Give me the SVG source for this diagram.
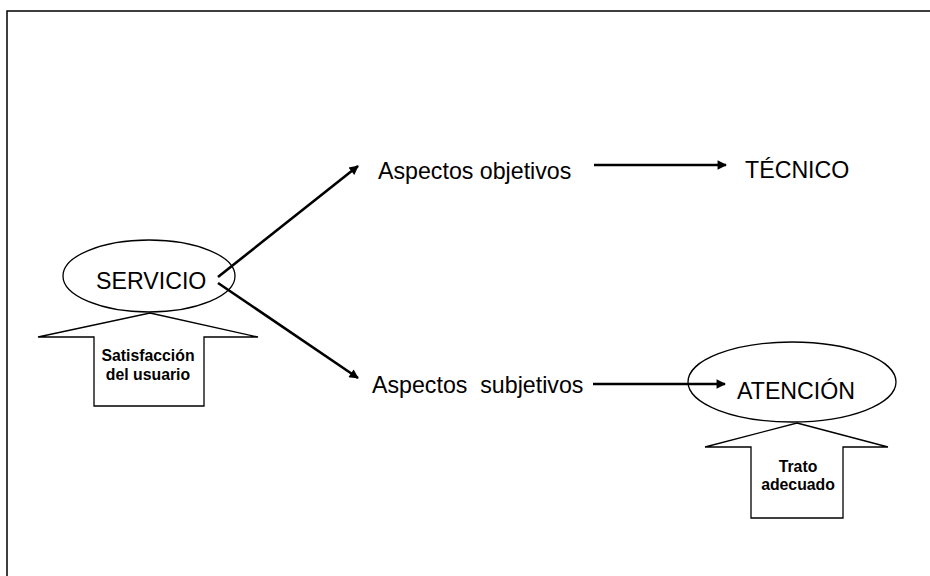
<svg xmlns="http://www.w3.org/2000/svg" width="930" height="576" viewBox="0 0 930 576">
<style>
.t{font-family:"Liberation Sans",Arial,sans-serif;font-size:23.2px;fill:#000}
.b{font-family:"Liberation Sans",Arial,sans-serif;font-size:15.8px;font-weight:bold;fill:#000;text-anchor:middle}
.sh{fill:#fff;stroke:#000;stroke-width:1.3}
.el{fill:none;stroke:#000;stroke-width:1.3}
.c{stroke:#000;stroke-width:2.6;fill:none;marker-end:url(#ah)}
</style>
<defs>
<marker id="ah" viewBox="0 0 10 10" refX="9" refY="5" markerWidth="4.2" markerHeight="3.6" orient="auto" markerUnits="strokeWidth">
<path d="M0,0 L10,5 L0,10 z" fill="#000"/>
</marker>
</defs>
<rect width="930" height="576" fill="#fff"/>
<path d="M7,576 V11 H930" fill="none" stroke="#000" stroke-width="1.5"/>
<g id="satisfaccion">
<polygon class="sh" points="150,313 258,337 204,337 204,406 94,406 94,337 38,337"/>
<text class="b" x="148" y="361">Satisfacción</text>
<text class="b" x="148" y="380">del usuario</text>
</g>
<g id="servicio">
<ellipse class="el" cx="149" cy="276" rx="86" ry="36"/>
<text class="t" x="96" y="289">SERVICIO</text>
</g>
<g id="objetivos">
<text class="t" x="378" y="179">Aspectos objetivos</text>
</g>
<g id="tecnico">
<text class="t" x="745" y="178">TÉCNICO</text>
</g>
<g id="subjetivos">
<text class="t" x="372" y="393" xml:space="preserve" style="white-space:pre">Aspectos  subjetivos</text>
</g>
<g id="trato">
<polygon class="sh" points="797,423 888,447 843,447 843,518 751,518 751,447 705,447"/>
<text class="b" x="798" y="472">Trato</text>
<text class="b" x="798" y="490">adecuado</text>
</g>
<g id="atencion">
<ellipse class="el" cx="792" cy="382" rx="104" ry="40"/>
<text class="t" x="737" y="399">ATENCIÓN</text>
</g>
<g id="connectors">
<path class="c" d="M218,277 L358,166"/>
<path class="c" d="M218,283 L358,378"/>
<path class="c" d="M594,165 L726,165"/>
<path class="c" d="M593,384 L725,384"/>
</g>
</svg>
